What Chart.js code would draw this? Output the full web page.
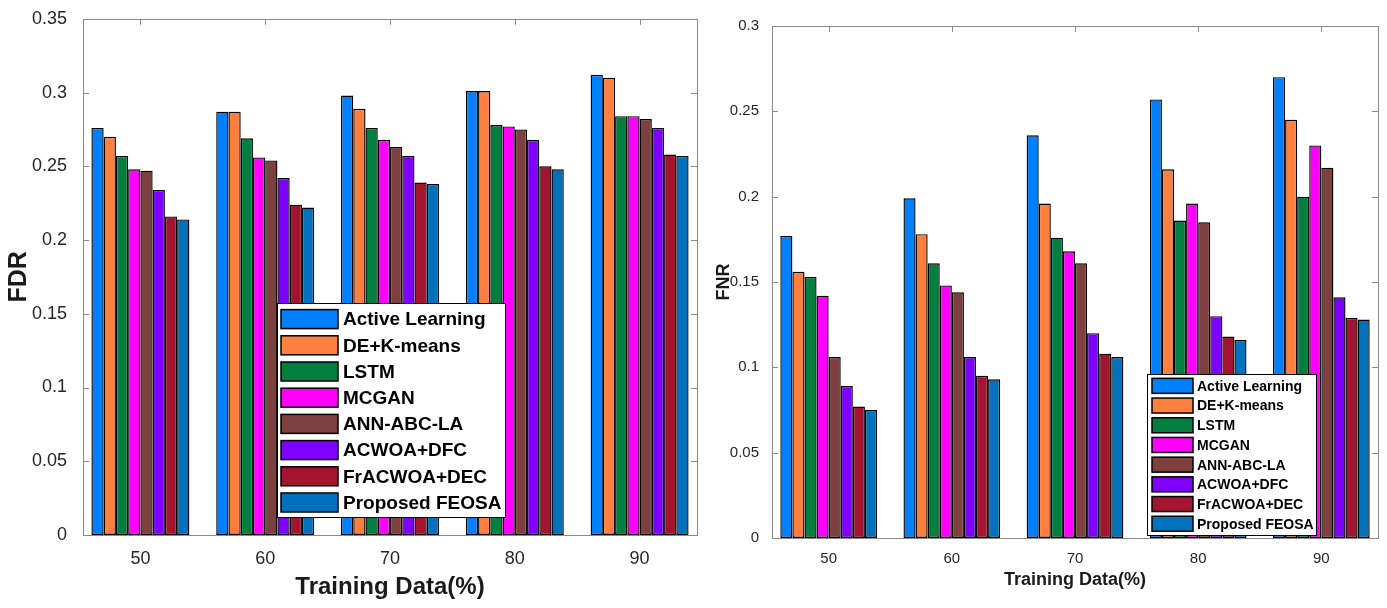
<!DOCTYPE html>
<html><head><meta charset="utf-8">
<script src="https://cdn.jsdelivr.net/npm/chart.js@4.4.0/dist/chart.umd.min.js"></script>
<style>
html,body{margin:0;padding:0;background:#fff;width:1387px;height:608px;overflow:hidden}
#c1{position:absolute;left:0;top:0}
#c2{position:absolute;left:700px;top:0}
</style></head><body>
<canvas id="c1" width="700" height="608"></canvas>
<canvas id="c2" width="687" height="608"></canvas>
<script>
// ---- data ----
const categories = [50, 60, 70, 80, 90];
const methods = ['Active Learning', 'DE+K-means', 'LSTM', 'MCGAN', 'ANN-ABC-LA', 'ACWOA+DFC', 'FrACWOA+DEC', 'Proposed FEOSA'];
const methodColors = ['#007FFF', '#FF7F3F', '#007F3F', '#FF00FF', '#7E3F3F', '#7F00FF', '#A2142F', '#0072BD'];

const fdrActiveLearning = [0.276, 0.287, 0.298, 0.301, 0.312];
const fdrDEKmeans       = [0.270, 0.287, 0.289, 0.301, 0.310];
const fdrLSTM           = [0.257, 0.269, 0.276, 0.278, 0.284];
const fdrMCGAN          = [0.248, 0.256, 0.268, 0.277, 0.284];
const fdrANNABCLA       = [0.247, 0.254, 0.263, 0.275, 0.282];
const fdrACWOADFC       = [0.234, 0.242, 0.257, 0.268, 0.276];
const fdrFrACWOADEC     = [0.216, 0.224, 0.239, 0.250, 0.258];
const fdrFEOSA          = [0.214, 0.222, 0.238, 0.248, 0.257];

const fnrActiveLearning = [0.177, 0.199, 0.236, 0.257, 0.270];
const fnrDEKmeans       = [0.156, 0.178, 0.196, 0.216, 0.245];
const fnrLSTM           = [0.153, 0.161, 0.176, 0.186, 0.200];
const fnrMCGAN          = [0.142, 0.148, 0.168, 0.196, 0.230];
const fnrANNABCLA       = [0.106, 0.144, 0.161, 0.185, 0.217];
const fnrACWOADFC       = [0.089, 0.106, 0.120, 0.130, 0.141];
const fnrFrACWOADEC     = [0.077, 0.095, 0.108, 0.118, 0.129];
const fnrFEOSA          = [0.075, 0.093, 0.106, 0.116, 0.128];

const fdrTickLabels = ['0', '0.05', '0.1', '0.15', '0.2', '0.25', '0.3', '0.35'];
const fnrTickLabels = ['0', '0.05', '0.1', '0.15', '0.2', '0.25', '0.3'];
const xTickLabels = ['50', '60', '70', '80', '90'];

const fdrSeries = [fdrActiveLearning, fdrDEKmeans, fdrLSTM, fdrMCGAN, fdrANNABCLA, fdrACWOADFC, fdrFrACWOADEC, fdrFEOSA];
const fnrSeries = [fnrActiveLearning, fnrDEKmeans, fnrLSTM, fnrMCGAN, fnrANNABCLA, fnrACWOADFC, fnrFrACWOADEC, fnrFEOSA];

// ---- plugins ----
const framePlugin = {
  id: 'frame',
  afterDatasetsDraw(chart, args, o) {
    const {ctx, chartArea: {left, right, top, bottom}, scales: {x, y}} = chart;
    ctx.save();
    ctx.strokeStyle = o.color; ctx.lineWidth = 1;
    ctx.strokeRect(Math.round(left) + 0.5, Math.round(top) + 0.5, Math.round(right - left), Math.round(bottom - top));
    ctx.beginPath();
    const L = o.len;
    y.ticks.forEach((t, i) => {
      const py = Math.round(y.getPixelForTick(i)) + 0.5;
      ctx.moveTo(left, py); ctx.lineTo(left + L, py);
      ctx.moveTo(right, py); ctx.lineTo(right - L, py);
    });
    x.ticks.forEach((t, i) => {
      const px = Math.round(x.getPixelForTick(i)) + 0.5;
      ctx.moveTo(px, top); ctx.lineTo(px, top + L);
    });
    ctx.stroke();
    ctx.restore();
  }
};

const boxLegend = {
  id: 'boxLegend',
  afterDraw(chart, args, o) {
    const ctx = chart.ctx;
    ctx.save();
    ctx.fillStyle = '#fff';
    ctx.fillRect(o.x, o.y, o.w, o.h);
    ctx.strokeStyle = '#000'; ctx.lineWidth = 1;
    ctx.strokeRect(o.x + 0.5, o.y + 0.5, o.w, o.h);
    ctx.font = o.font; ctx.textBaseline = 'middle'; ctx.textAlign = 'left';
    chart.data.datasets.forEach((ds, i) => {
      const cy = o.y + o.pad + i * o.row + o.row / 2;
      const sx = o.x + o.sx, sy = cy - o.sh / 2;
      ctx.fillStyle = ds.backgroundColor;
      ctx.fillRect(sx, sy, o.sw, o.sh);
      ctx.strokeStyle = '#000'; ctx.lineWidth = 1.5;
      ctx.strokeRect(sx, sy, o.sw, o.sh);
      ctx.fillStyle = '#000';
      ctx.fillText(ds.label, sx + o.sw + o.gap, cy + 1);
    });
    ctx.restore();
  }
};

const FONT = 'Liberation Sans, Arial, Helvetica, sans-serif';

function makeChart(id, series, tickLabels, yMax, cfg) {
  return new Chart(document.getElementById(id), {
    type: 'bar',
    data: {
      datasets: methods.map((m, i) => ({
        label: m,
        data: categories.map((c, j) => ({x: c, y: series[i][j]})),
        backgroundColor: methodColors[i],
        borderColor: '#000',
        borderWidth: 1.4,
        borderSkipped: false,
        barPercentage: 1.0,
        categoryPercentage: 0.785
      }))
    },
    options: {
      responsive: false,
      animation: false,
      devicePixelRatio: 1,
      layout: {padding: {top: cfg.padTop, right: cfg.padRight, left: 0, bottom: 0}},
      plugins: {
        legend: {display: false},
        tooltip: {enabled: false},
        frame: {color: '#8a8a8a', len: 6},
        boxLegend: cfg.legend
      },
      scales: {
        x: {
          type: 'linear',
          min: 45.4, max: 94.6,
          offset: false,
          grid: {display: false},
          border: {display: false},
          afterBuildTicks: s => { s.ticks = categories.map(v => ({value: v})); },
          ticks: {color: '#262626', font: {family: FONT, size: cfg.tickSize}, padding: cfg.xTickPad, maxRotation: 0,
                  callback: (v, i) => xTickLabels[i]},
          title: {display: true, text: 'Training Data(%)', color: '#1a1a1a',
                  font: {family: FONT, size: cfg.xTitleSize, weight: 'bold'}, padding: {top: 0, bottom: cfg.xTitlePad}},
          afterFit: s => { s.height = cfg.xHeight; }
        },
        y: {
          min: 0, max: yMax,
          grid: {display: false},
          border: {display: false},
          ticks: {stepSize: 0.05, color: '#262626', font: {family: FONT, size: cfg.tickSize}, padding: cfg.yTickPad,
                  callback: (v, i) => tickLabels[i]},
          title: {display: true, text: cfg.yTitle, color: '#1a1a1a',
                  font: {family: FONT, size: cfg.yTitleSize, weight: 'bold'}, padding: {top: cfg.yTitlePad, bottom: 0}},
          afterFit: s => { s.width = cfg.yWidth; }
        }
      }
    },
    plugins: [framePlugin, boxLegend]
  });
}

makeChart('c1', fdrSeries, fdrTickLabels, 0.35, {
  padTop: 14, padRight: 3, tickSize: 18, xTickPad: 5, xTitleSize: 24, xTitlePad: 6,
  xHeight: 73, yTickPad: 8, yTitle: 'FDR', yTitleSize: 25, yTitlePad: 4.5, yWidth: 83,
  legend: {x: 277, y: 303, w: 228, h: 214, pad: 3, row: 26.2, sx: 4, sw: 57, sh: 19, gap: 5, font: 'bold 19px ' + FONT}
});

makeChart('c2', fnrSeries, fnrTickLabels, 0.3, {
  padTop: 26, padRight: 9, tickSize: 15, xTickPad: 4, xTitleSize: 18, xTitlePad: 17,
  xHeight: 70, yTickPad: 5, yTitle: 'FNR', yTitleSize: 18, yTitlePad: 13, yWidth: 72,
  legend: {x: 447, y: 374, w: 169, h: 161, pad: 2, row: 19.7, sx: 5, sw: 41, sh: 15, gap: 4, font: 'bold 14px ' + FONT}
});
</script>
</body></html>
